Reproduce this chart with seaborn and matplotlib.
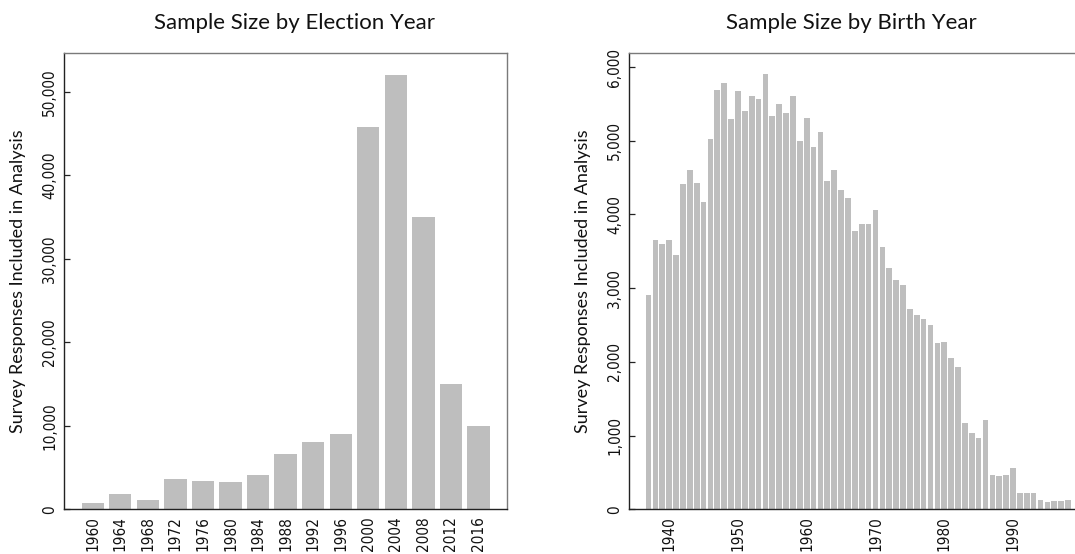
import matplotlib
matplotlib.use("Agg")
import matplotlib.pyplot as plt
import matplotlib.ticker as mticker
import seaborn as sns
import pandas as pd

# Survey responses by election year
election_years = ["1960", "1964", "1968", "1972", "1976", "1980", "1984", "1988",
                  "1992", "1996", "2000", "2004", "2008", "2012", "2016"]
election_counts = [790, 1870, 1150, 3630, 3390, 3310, 4140, 6590,
                   8060, 9050, 45820, 52050, 34970, 15040, 10010]

# Survey responses by respondent birth year
birth_years = list(range(1937, 1999))
birth_counts = [2910, 3650, 3600, 3650, 3450, 4420, 4610, 4430, 4170, 5030,
                5690, 5780, 5300, 5670, 5410, 5610, 5560, 5900, 5330, 5500,
                5370, 5610, 5000, 5310, 4920, 5120, 4460, 4610, 4330, 4220,
                3780, 3870, 3870, 4060, 3560, 3280, 3110, 3040, 2720, 2635,
                2586, 2500, 2261, 2274, 2049, 1931, 1167, 1031, 972, 1212,
                470, 452, 470, 560, 226, 222, 222, 126, 104, 113,
                113, 127]

BAR = "#bebebe"
DARK = "#222222"
LIGHT = "#7a7a7a"

sns.set_theme(style="white")
plt.rcParams["font.family"] = ["Lato", "DejaVu Sans"]

fig = plt.figure(figsize=(10.75, 5.54), dpi=100)
ax1 = fig.add_axes([0.0598, 0.0807, 0.4115, 0.8242])
ax2 = fig.add_axes([0.5854, 0.0807, 0.4170, 0.8242])

df1 = pd.DataFrame({"year": election_years, "n": election_counts})
sns.barplot(data=df1, x="year", y="n", color=BAR, saturation=1, width=0.81,
            linewidth=0, ax=ax1)
ax1.set_xlim(-1.03, 15.02)
ax1.set_ylim(0, 54700)
ax1.set_yticks([0, 10000, 20000, 30000, 40000, 50000])

df2 = pd.DataFrame({"year": birth_years, "n": birth_counts})
sns.barplot(data=df2, x="year", y="n", color=BAR, saturation=1, width=0.82,
            linewidth=0, native_scale=True, ax=ax2)
ax2.set_xlim(1934.2, 1999.4)
ax2.set_ylim(0, 6195)
ax2.set_xticks([1940, 1950, 1960, 1970, 1980, 1990])
ax2.set_yticks([0, 1000, 2000, 3000, 4000, 5000, 6000])
ax2.spines["right"].set_visible(False)

titles = ["Sample Size by Election Year", "Sample Size by Birth Year"]
title_x = [0.52, 0.495]
for ax, title, tx in zip([ax1, ax2], titles, title_x):
    ax.set_title(title, fontsize=16, pad=17, color="#111111", x=tx)
    ax.set_xlabel("")
    ax.set_ylabel("Survey Responses Included in Analysis", fontsize=13,
                  color="#111111", labelpad=12)
    ax.yaxis.set_major_formatter(mticker.StrMethodFormatter("{x:,.0f}"))
    ax.tick_params(axis="both", direction="in", length=4, width=0.9,
                   color=DARK, labelsize=11, labelcolor="#111111", pad=5)
    ax.tick_params(axis="x", labelrotation=90, bottom=True)
    ax.tick_params(axis="y", labelrotation=90, left=True)
    for lbl in ax.get_xticklabels() + ax.get_yticklabels():
        lbl.set_family("DejaVu Sans")
        lbl.set_stretch("condensed")
    for lbl in ax.get_yticklabels():
        lbl.set_va("center")
    for side in ["left", "bottom"]:
        ax.spines[side].set_color(DARK)
        ax.spines[side].set_linewidth(1.0)
    for side in ["top", "right"]:
        ax.spines[side].set_color(LIGHT)
        ax.spines[side].set_linewidth(1.0)
    ax.grid(False)

fig.savefig("out.png", dpi=100)
